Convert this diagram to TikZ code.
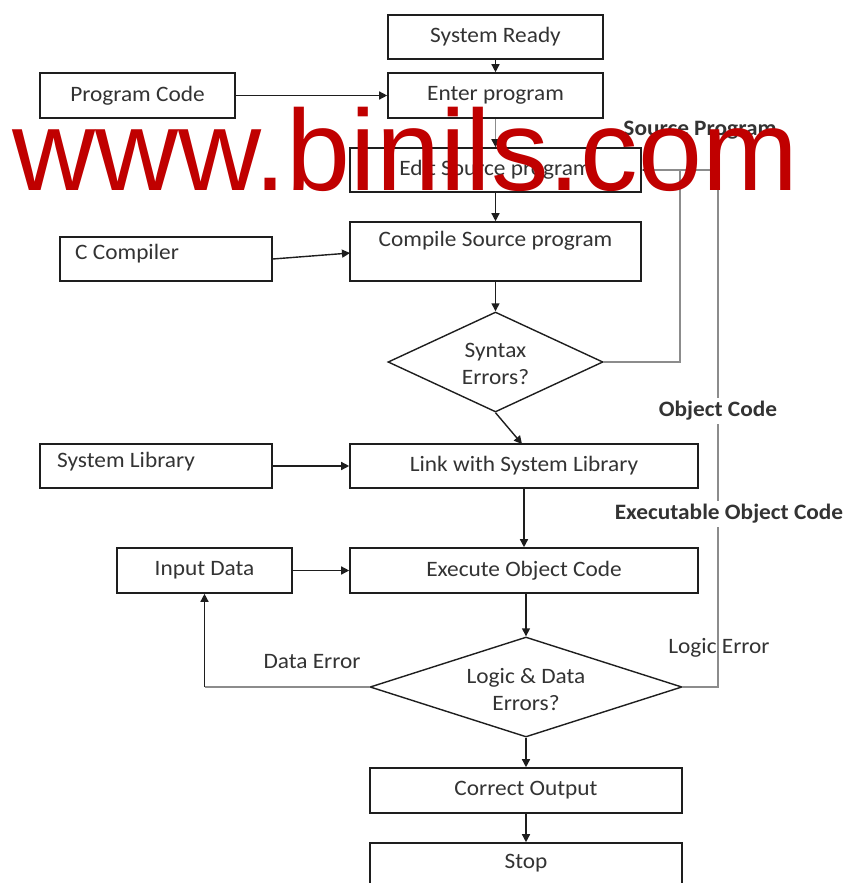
\documentclass[tikz,border=0pt]{standalone}
\usepackage{fontspec}
\setmainfont{Carlito}[FakeStretch=1.06]
\newfontfamily\wmfont{Liberation Sans}
\usetikzlibrary{arrows.meta,shapes.geometric}
\definecolor{txt}{HTML}{333333}
\definecolor{edge}{HTML}{1E1E1E}
\definecolor{loopc}{HTML}{8C8C8C}
\definecolor{wmc}{HTML}{C00000}
\begin{document}
\begin{tikzpicture}[x=1pt,y=-1pt,
  box/.style={draw=edge, line width=1.6pt, rectangle, inner sep=0pt, text=txt, font=\fontsize{22}{27}\selectfont},
  lbl/.style={text=txt, font=\fontsize{22}{27}\selectfont, inner sep=1pt, align=center},
  blbl/.style={text=txt, font=\fontsize{22}{27}\selectfont\bfseries, inner sep=3pt},
  dia/.style={draw=edge, line width=1.4pt, diamond, inner sep=0pt},
  arr/.style={draw=edge, line width=1.4pt, -{Triangle[length=8pt,width=8pt]}},
  gline/.style={draw=loopc, line width=1.8pt},
  garr/.style={gline, -{Triangle[length=8pt,width=8pt,color=edge]}},
]
\useasboundingbox (0,0) rectangle (847,883);
\clip (0,0) rectangle (847,883);
\fill[white] (0,0) rectangle (847,883);

% boxes
\node[box, minimum width=215pt, minimum height=44pt] (ready) at (495.5,37) {System Ready};
\node[box, minimum width=215pt, minimum height=45pt] (enter) at (495.5,95.5) {Enter program};
\node[box, minimum width=195pt, minimum height=45pt] (progcode) at (137.5,95.5) {Program Code};
\node[box, minimum width=291pt, minimum height=44pt] (edit) at (495.5,170) {Edit Source program};
\node[box, minimum width=291pt, minimum height=59pt] (compile) at (495.5,251.5) {};
\node[lbl] (compiletxt) at (495.5,241) {Compile Source program};
\node[box, minimum width=212pt, minimum height=44pt] (ccomp) at (166,259) {};
\node[lbl, anchor=west] (ccomptxt) at (74,254) {C Compiler};
\node[dia, minimum width=215pt, minimum height=100pt] (syn) at (495.5,362) {};
\node[lbl] (syntxt) at (495.5,364) {Syntax\\Errors?};
\node[box, minimum width=348pt, minimum height=44pt] (link) at (524,466) {Link with System Library};
\node[box, minimum width=232pt, minimum height=44pt] (syslib) at (156,466) {};
\node[lbl, anchor=west] (syslibtxt) at (56,462) {System Library};
\node[box, minimum width=348pt, minimum height=45pt] (exec) at (524,570.5) {Execute Object Code};
\node[box, minimum width=175pt, minimum height=45pt] (input) at (204.5,570.5) {Input Data};
\node[dia, minimum width=312pt, minimum height=100pt] (logic) at (526,687) {};
\node[lbl] (logictxt) at (526,690) {Logic \& Data\\Errors?};
\node[box, minimum width=312pt, minimum height=45pt] (correct) at (526,790.5) {Correct Output};
\node[box, minimum width=312pt, minimum height=50pt] (stop) at (526,868) {};
\node[lbl] (stoptxt) at (526,863) {Stop};

% straight connectors
\draw[arr] (ready) -- (enter);
\draw[arr] (progcode) -- (enter);
\draw[garr] (enter) -- (edit);
\draw[arr] (edit) -- (compile);
\coordinate (ccin) at (350,253);
\draw[arr] (ccomp.east) -- (ccin);
\draw[arr] (compile) -- (syn.north);
\coordinate (linkin) at (522,444);
\draw[arr] (syn.south) -- (linkin);
\draw[arr] (syslib) -- (link);
\draw[arr] (link) -- (exec);
\draw[arr] (input) -- (exec);
\draw[arr] (exec.south -| logic.north) -- (logic.north);
\draw[arr] (logic.south) -- (correct);
\draw[arr] (correct) -- (stop);

% loops
\coordinate (dataturn) at (204.5,687);
\draw[gline] (logic.west) -- (dataturn);
\draw[arr] (dataturn) -- (input.south);
\node[lbl] (dataerr) at (312,662) {Data Error};

\coordinate (logturn) at (718,687);
\coordinate (logtop) at (718,170);
\coordinate (syntop) at (680,170);
\coordinate (synturn) at (680,362);
\draw[gline] (logic.east) -- (logturn) -- (logtop) -- (syntop);
\draw[gline] (syn.east) -- (synturn) -- (syntop);
\draw[garr] (syntop) -- (edit.east);

\node[lbl] (logerr) at (719,648) {Logic Error};
\node[blbl, fill=white] (objcode) at (718,411) {Object Code};
\node[blbl, fill=white] (execobj) at (729,514) {Executable Object Code};
\node[blbl] (srcprog) at (700,130) {Source Program};

% watermark
\node[anchor=base west, inner sep=0pt, text=wmc, font=\wmfont\fontsize{115}{115}\selectfont] (wm) at (12,190) {www.binils.com};
\end{tikzpicture}
\end{document}
